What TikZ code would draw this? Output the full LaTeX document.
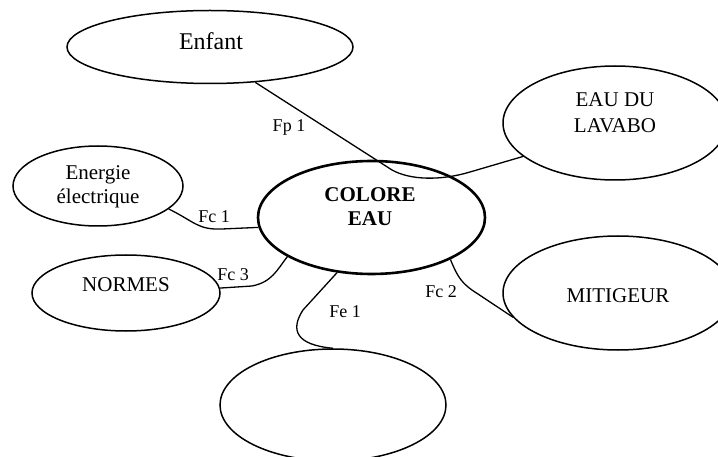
\documentclass[tikz,border=0pt]{standalone}
\usepackage{fontspec}
\setmainfont{Liberation Serif}
\usetikzlibrary{shapes.geometric}
\tikzset{
  bub/.style={draw, ellipse, line width=1.5pt, inner sep=0pt},
  lbl/.style={anchor=base, inner sep=0pt, font=\fontsize{21}{25}\selectfont},
  flbl/.style={anchor=base, inner sep=0pt, font=\fontsize{18}{20}\selectfont},
  conn/.style={line width=1.3pt},
}
\begin{document}
\begin{tikzpicture}[x=1pt, y=-1pt]
\useasboundingbox (0,0) rectangle (718,457);
\clip (0,0) rectangle (718,457);
% ellipses
\node[bub, minimum width=286pt, minimum height=73pt] (enfant) at (210,47) {};
\node[bub, minimum width=224pt, minimum height=114pt] (lavabo) at (615,123) {};
\node[bub, minimum width=170pt, minimum height=80pt] (energie) at (98,186) {};
\node[bub, line width=2.6pt, minimum width=227pt, minimum height=113pt] (colore) at (371.5,217.5) {};
\node[bub, minimum width=188pt, minimum height=76pt] (normes) at (126,293) {};
\node[bub, minimum width=230pt, minimum height=114pt] (mitigeur) at (618,293) {};
\node[bub, minimum width=226pt, minimum height=112pt] (vide) at (333,405) {};
% texts
\node[lbl, font=\fontsize{24}{26}\selectfont] (tenfant) at (211,50) {Enfant};
\node[lbl] (tlav1) at (615,107) {EAU DU};
\node[lbl] (tlav2) at (615,133) {LAVABO};
\node[lbl] (tene1) at (98,180) {Energie};
\node[lbl] (tene2) at (98,204) {électrique};
\node[lbl, font=\fontsize{21}{25}\selectfont\bfseries] (tcol1) at (370,202) {COLORE};
\node[lbl, font=\fontsize{21}{25}\selectfont\bfseries] (tcol2) at (370,226) {EAU};
\node[lbl] (tnor) at (126,291) {NORMES};
\node[lbl] (tmit) at (618,302) {MITIGEUR};
% function labels
\node[flbl] (fp1) at (289,132) {Fp 1};
\node[flbl] (fc1) at (214,223) {Fc 1};
\node[flbl] (fc3) at (233,280) {Fc 3};
\node[flbl] (fc2) at (441,298) {Fc 2};
\node[flbl] (fe1) at (345,317) {Fe 1};
% connectors
\draw[conn] (enfant.-38) -- (392,170) .. controls (410,180) and (440,181) .. (470,172) -- (lavabo.-160);
\draw[conn] (energie.-18) .. controls (195,222) and (198,230) .. (222,229) -- (colore.185);
\draw[conn] (normes.3) -- (252,286) .. controls (272,282) and (277,270) .. (colore.205);
\draw[conn] (colore.238) -- (303,310) .. controls (290,330) and (296,345) .. (vide.north);
\draw[conn] (colore.-28) .. controls (458,278) and (462,284) .. (478,294) -- (mitigeur.-167);
\end{tikzpicture}
\end{document}
